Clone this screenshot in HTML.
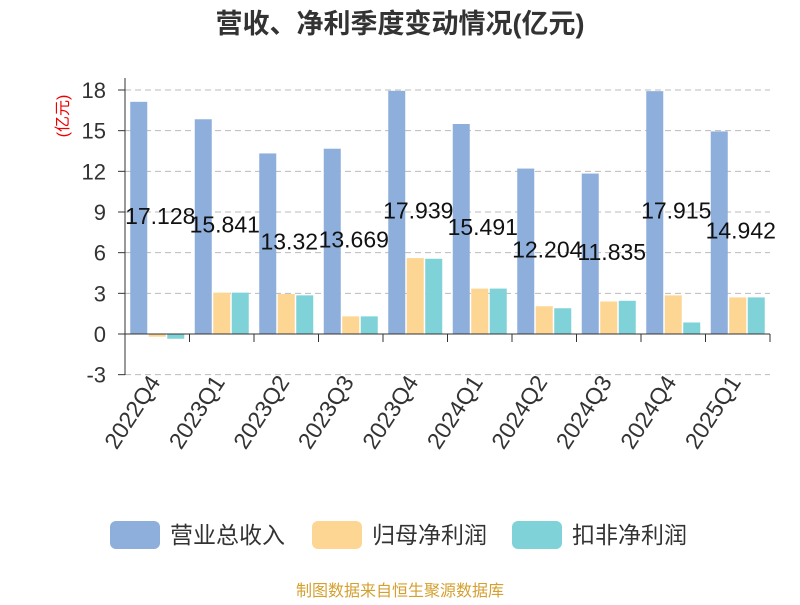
<!DOCTYPE html>
<html><head><meta charset="utf-8"><style>
body{margin:0;background:#fff;font-family:"Liberation Sans","Noto Sans CJK SC",sans-serif}
</style></head><body>
<svg width="800" height="600" xmlns="http://www.w3.org/2000/svg" font-family="Liberation Sans, Noto Sans CJK SC, sans-serif">
<text x="400" y="33" text-anchor="middle" font-size="27" font-weight="bold" fill="#333">营收、净利季度变动情况(亿元)</text>
<text transform="translate(68,116) rotate(-90)" text-anchor="middle" font-size="16" fill="#e00">(亿元)</text>
<g id="grid"></g><g id="bars"></g><g id="labels"></g><g id="axes"></g>
<g>
<rect x="110" y="521" width="50" height="28" rx="6" fill="#8eaedb"/>
<text x="170" y="543" font-size="23" fill="#333">营业总收入</text>
<rect x="312" y="521" width="50" height="28" rx="6" fill="#fdd693"/>
<text x="372" y="543" font-size="23" fill="#333">归母净利润</text>
<rect x="512" y="521" width="50" height="28" rx="6" fill="#7fd3d8"/>
<text x="572" y="543" font-size="23" fill="#333">扣非净利润</text>
</g>
<text x="400" y="596" text-anchor="middle" font-size="16" fill="#d4a030">制图数据来自恒生聚源数据库</text>
</svg>
<script>
const categories=["2022Q4","2023Q1","2023Q2","2023Q3","2023Q4","2024Q1","2024Q2","2024Q3","2024Q4","2025Q1"];
const revenue=[17.128,15.841,13.32,13.669,17.939,15.491,12.204,11.835,17.915,14.942];
const netProfit=[-0.2,3.05,2.95,1.3,5.6,3.35,2.05,2.4,2.85,2.7];
const deductedProfit=[-0.35,3.05,2.85,1.3,5.55,3.35,1.9,2.45,0.85,2.7];
const yTicks=[-3,0,3,6,9,12,15,18];
const NS="http://www.w3.org/2000/svg";
const x0=125,x1=770,yTop=90,yZero=334;
const y=v=>yZero-(v*(yZero-yTop)/18);
const cw=(x1-x0)/categories.length;
function mk(t,a,p){const e=document.createElementNS(NS,t);for(const k in a)e.setAttribute(k,a[k]);p.appendChild(e);return e;}
const grid=document.getElementById('grid'),bars=document.getElementById('bars'),labels=document.getElementById('labels'),axes=document.getElementById('axes');
yTicks.forEach(t=>{
 if(t!==0){const l=mk('line',{x1:x0,x2:x1,y1:y(t),y2:y(t),stroke:'#bbb','stroke-dasharray':'6,4'},grid);
 
 }
 const tx=mk('text',{x:106,y:y(t)+8,'text-anchor':'end','font-size':22,fill:'#333'},axes);
 tx.textContent=t;
 
 
});
const series=[[revenue,'#8eaedb','revenue'],[netProfit,'#fdd693','net-profit'],[deductedProfit,'#7fd3d8','deducted-profit']];
const bw=17,gap=1.5;
categories.forEach((c,i)=>{
 const cx=x0+cw*(i+0.5);
 series.forEach((s,j)=>{
  const v=s[0][i];const bx=cx+(j-1)*(bw+gap)-bw/2;
  const r=mk('rect',{x:bx,y:Math.min(y(v),yZero),width:bw,height:Math.abs(y(v)-yZero),fill:s[1]},bars);
  
  
 });
 const lb=mk('text',{x:cx+3,y:yZero-revenue[i]*(yZero-yTop)/36+6,'text-anchor':'middle','font-size':23,fill:'#111'},labels);
 lb.textContent=revenue[i];
 
 
 const xt=mk('text',{transform:`translate(${cx+4},${yZero+48}) rotate(-57)`,'text-anchor':'end','font-size':23,fill:'#333'},axes);
 xt.textContent=c;
 
 
});
const ya=mk('line',{x1:x0,x2:x0,y1:78,y2:375,stroke:'#333'},axes);


const xa=mk('line',{x1:x0,x2:x1,y1:yZero,y2:yZero,stroke:'#333'},axes);


for(let i=0;i<=categories.length;i++){const tk=mk('line',{x1:x0+cw*i,x2:x0+cw*i,y1:yZero,y2:yZero+8,stroke:'#333'},axes);
 
 }
yTicks.forEach(t=>{const tk=mk('line',{x1:x0-7,x2:x0,y1:y(t),y2:y(t),stroke:'#333'},axes);
 
 });
</script>
</body></html>
